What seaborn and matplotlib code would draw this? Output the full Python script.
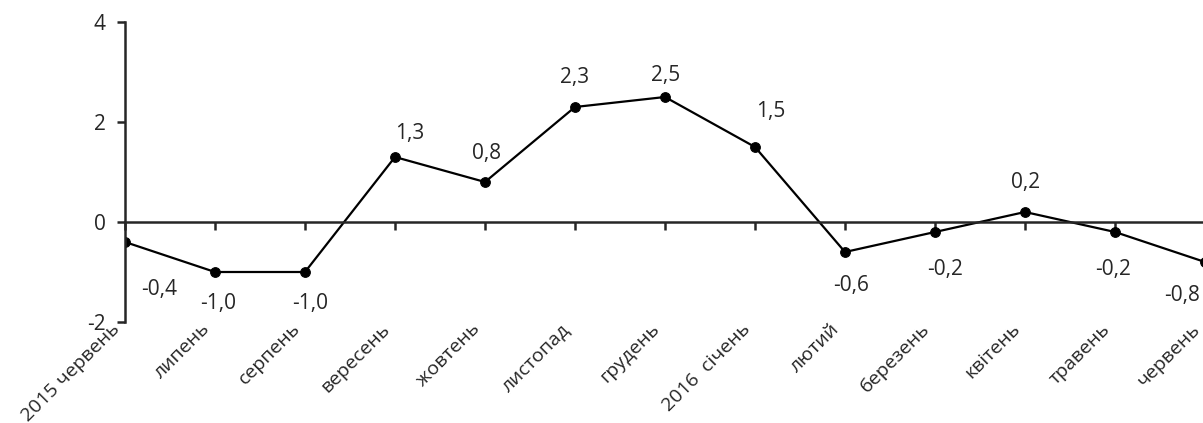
import pandas as pd
import numpy as np
import matplotlib
matplotlib.use("Agg")
import matplotlib.pyplot as plt
import matplotlib.transforms as mtransforms
import seaborn as sns

months = ["2015 червень", "липень", "серпень", "вересень", "жовтень", "листопад",
          "грудень", "2016  січень", "лютий", "березень", "квітень", "травень", "червень"]
values = [-0.4, -1.0, -1.0, 1.3, 0.8, 2.3, 2.5, 1.5, -0.6, -0.2, 0.2, -0.2, -0.8]
yticks = [-2, 0, 2, 4]

# hand-placed label offsets in pixels (like the original excel chart)
label_offsets = [(34, -48), (3, -32), (5, -32), (15, 24), (2, 29), (0, 29), (1, 22),
                 (16, 35), (6, -33), (10, -37), (1, 30), (-2, -37), (-23, -34)]

sns.set_style("white")
plt.rcParams['font.family'] = ['Open Sans', 'DejaVu Sans']
plt.rcParams['axes.unicode_minus'] = False

df = pd.DataFrame({"pos": np.arange(len(months)), "value": values})

fig = plt.figure(figsize=(12.03, 4.23), dpi=100)
ax = fig.add_axes([125/1203, 101/423, 1080/1203, 300/423])
sns.lineplot(data=df, x="pos", y="value", color="black", linewidth=1.6,
             marker="o", markersize=7, markeredgecolor="black", ax=ax)

ax.set_xlim(0, len(months) - 1)
ax.set_ylim(-2, 4)
ax.set_yticks(yticks, labels=[str(t) for t in yticks])
ax.set(xlabel="", ylabel="")

for s in ["top", "right"]:
    ax.spines[s].set_visible(False)
ax.spines["left"].set_linewidth(1.8)
ax.spines["bottom"].set_position(("data", 0))
ax.spines["bottom"].set_linewidth(1.8)
ax.set_xticks(np.arange(len(months)))
ax.tick_params(axis="x", direction="out", length=6, width=1.8, labelbottom=False, bottom=True)
ax.tick_params(axis="y", direction="out", length=6, width=1.8, labelsize=15, left=True, pad=8)

sec = ax.secondary_xaxis(0.0)
sec.set_xticks(np.arange(len(months)), labels=months)
sec.tick_params(length=0, labelsize=14, pad=3)
shift = mtransforms.ScaledTranslation(-8/100, 0, fig.dpi_scale_trans)
for lab in sec.get_xticklabels():
    lab.set_rotation(45)
    lab.set_ha("right")
    lab.set_va("center")
    lab.set_rotation_mode("anchor")
    lab.set_transform(lab.get_transform() + shift)
sec.spines["bottom"].set_visible(False)

for i, v in enumerate(values):
    dx, dy = label_offsets[i]
    ax.annotate(f"{v:.1f}".replace(".", ","), (i, v), xytext=(dx, dy),
                textcoords="offset pixels", ha="center", va="center", fontsize=15)

fig.savefig("out.png", dpi=100)
plt.close(fig)
